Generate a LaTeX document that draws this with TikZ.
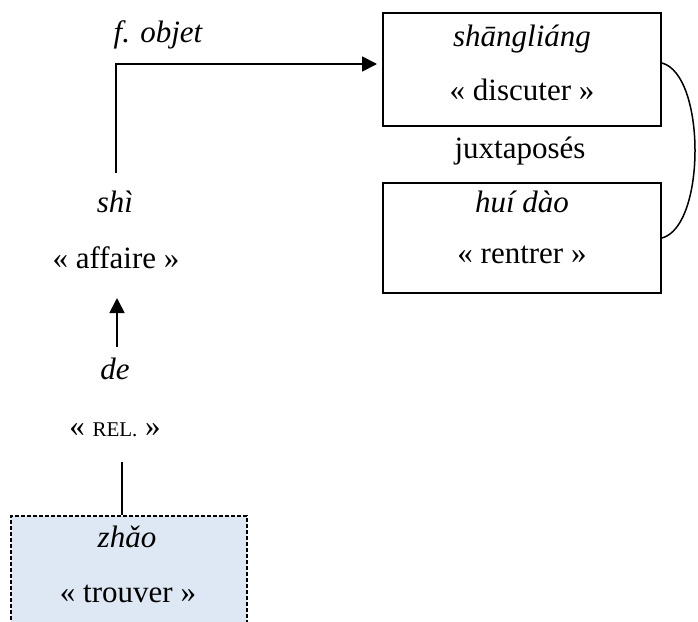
\documentclass[tikz,border=0pt]{standalone}
\usepackage{fontspec}
\setmainfont{Liberation Serif}
\usetikzlibrary{arrows.meta}
\begin{document}
\begin{tikzpicture}[x=1pt,y=-1pt,
  txt/.style={anchor=base,inner sep=0pt,font=\fontsize{31}{37}\selectfont},
  itxt/.style={anchor=base,inner sep=0pt,font=\fontsize{31}{37}\selectfont\itshape},
  box/.style={draw,line width=2pt,inner sep=0pt},
  conn/.style={line width=1.8pt},
  arr/.style={conn,-{Triangle[length=15pt,width=15pt]}}]
\useasboundingbox (0,0) rectangle (698,621);
\clip (0,0) rectangle (698,621);
% boxes
\node[box,minimum width=278pt,minimum height=113pt] (b1) at (522,69.5) {};
\node[box,minimum width=278pt,minimum height=110pt] (b2) at (522,238) {};
\node[box,draw=black,fill={rgb,255:red,222;green,232;blue,244},dash pattern=on 4pt off 2pt,minimum width=236pt,minimum height=124pt] (b3) at (129,578) {};
% texts
\node[itxt] (fobj) at (158,42) {f. objet};
\node[itxt] (sl) at (522,46) {shāngliáng};
\node[txt] (disc) at (522,100) {« discuter »};
\node[txt] (juxt) at (520,158) {juxtaposés};
\node[itxt] (hd) at (522,212) {huí dào};
\node[txt] (rent) at (522,263) {« rentrer »};
\node[itxt] (shi) at (115,212) {shì};
\node[txt] (aff) at (116,268) {« affaire »};
\node[itxt] (de) at (115,379) {de};
\node[txt] (rel) at (115,436) {« {\fontsize{21}{25}\selectfont REL.} »};
\node[itxt] (zhao) at (127,547) {zhǎo};
\node[txt] (trouv) at (128,602) {« trouver »};
% connectors
\coordinate (s1) at (116,173);
\draw[arr,shorten >=5pt] (s1) |- ([yshift=5.5pt]b1.west);
\coordinate (u1) at (117,347);
\coordinate (u2) at (117,298);
\draw[arr] (u1) -- (u2);
\coordinate (l1) at (122,462);
\draw[conn] (l1) -- (l1 |- b3.north);
\draw[line width=1.5pt] ([yshift=6.5pt]b1.east) .. controls +(44,12) and +(44,-12) .. (b2.east);
\end{tikzpicture}
\end{document}
